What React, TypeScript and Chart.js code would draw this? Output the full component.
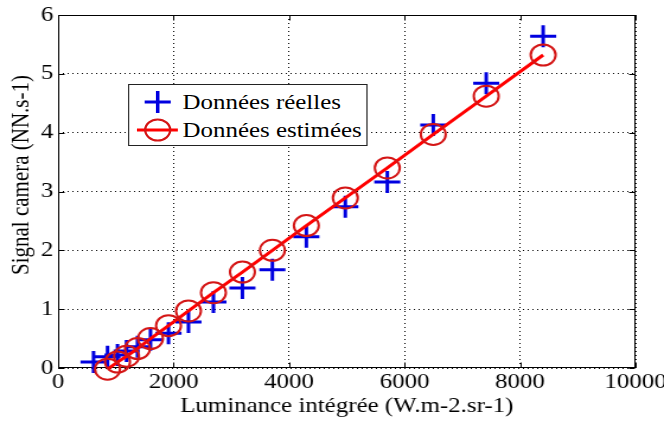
import React, { useEffect, useRef } from 'react';
import { Chart, registerables } from 'chart.js';

Chart.register(...registerables);

// ---- data ----
const realX = [614, 856, 1029, 1185, 1375, 1600, 1912, 2258, 2690, 3192, 3711, 4299, 4974, 5701, 6497, 7414, 8400];
const realY = [0.10, 0.19, 0.22, 0.29, 0.36, 0.48, 0.59, 0.78, 1.12, 1.36, 1.67, 2.23, 2.74, 3.16, 4.13, 4.84, 5.64];
const estX = [856, 1029, 1185, 1375, 1600, 1912, 2258, 2690, 3192, 3711, 4299, 4974, 5701, 6497, 7414, 8400];
const estY = [-0.02, 0.10, 0.20, 0.33, 0.50, 0.72, 0.97, 1.28, 1.63, 2.00, 2.42, 2.89, 3.40, 3.97, 4.62, 5.32];
const xTicks = [0, 2000, 4000, 6000, 8000, 10000];
const yTicks = [0, 1, 2, 3, 4, 5, 6];
const seriesNames = ['Données réelles', 'Données estimées'];
const xTitle = 'Luminance intégrée (W.m-2.sr-1)';
const yTitle = 'Signal camera (NN.s-1)';

const FONT = "'Liberation Serif', 'Times New Roman', Times, serif";
const BLUE = '#0000e0';
const RED = '#ff0000';
const CIRCLE_RED = '#d41515';

const boxPlugin = {
  id: 'matlabBox',
  beforeDatasetsDraw(chart: any) {
    const { ctx, chartArea } = chart;
    const xs = chart.scales.x;
    const ys = chart.scales.y;
    const l = Math.round(chartArea.left) + 0.5;
    const r = Math.round(chartArea.right) - 0.5;
    const t = Math.round(chartArea.top) + 0.5;
    const b = Math.round(chartArea.bottom) - 0.5;
    ctx.save();
    ctx.strokeStyle = '#000';
    ctx.lineWidth = 1;
    ctx.setLineDash([]);
    ctx.strokeRect(l, t, r - l, b - t);
    ctx.beginPath();
    xTicks.forEach((v) => {
      const p = Math.round(xs.getPixelForValue(v)) + 0.5;
      ctx.moveTo(p, b); ctx.lineTo(p, b - 5);
      ctx.moveTo(p, t); ctx.lineTo(p, t + 5);
    });
    yTicks.forEach((v) => {
      const p = Math.round(ys.getPixelForValue(v)) + 0.5;
      ctx.moveTo(l, p); ctx.lineTo(l + 5, p);
      ctx.moveTo(r, p); ctx.lineTo(r - 5, p);
    });
    ctx.stroke();
    ctx.restore();
  },
  afterDraw(chart: any) {
    const { ctx } = chart;
    ctx.save();
    ctx.translate(18, 175);
    ctx.rotate(-Math.PI / 2);
    ctx.font = `21px ${FONT}`;
    ctx.fillStyle = '#000';
    ctx.textAlign = 'center';
    ctx.textBaseline = 'middle';
    ctx.fillText(yTitle, 0, 0);
    ctx.restore();
  },
};

export default function App() {
  const ref = useRef<HTMLCanvasElement | null>(null);

  useEffect(() => {
    if (!ref.current) return;
    const chart = new Chart(ref.current, {
      type: 'scatter',
      data: {
        datasets: [
          {
            type: 'line',
            label: seriesNames[1],
            data: estX.map((x, i) => ({ x, y: estY[i] })),
            borderColor: RED,
            borderWidth: 3,
            tension: 0,
            pointStyle: 'circle',
            pointRadius: 10.5,
            pointHoverRadius: 10.5,
            pointBorderWidth: 2,
            pointBorderColor: CIRCLE_RED,
            pointBackgroundColor: 'rgba(0,0,0,0)',
            clip: false,
            order: 0,
          } as any,
          {
            type: 'scatter',
            label: seriesNames[0],
            data: realX.map((x, i) => ({ x, y: realY[i] })),
            showLine: false,
            pointStyle: 'cross',
            pointRadius: 11,
            pointHoverRadius: 11,
            pointBorderWidth: 3,
            pointBorderColor: BLUE,
            borderColor: BLUE,
            clip: false,
            order: 1,
          } as any,
        ],
      },
      options: {
        animation: false,
        responsive: false,
        maintainAspectRatio: false,
        devicePixelRatio: 1,
        events: [],
        layout: { padding: { top: 15, right: 24, left: 0, bottom: 0 } },
        plugins: { legend: { display: false }, tooltip: { enabled: false } },
        scales: {
          x: {
            type: 'linear',
            min: 0,
            max: 10000,
            afterBuildTicks: (s: any) => { s.ticks = xTicks.map((v) => ({ value: v })); },
            afterFit: (s: any) => { s.height = 53; s.paddingLeft = 0; s.paddingRight = 0; },
            ticks: {
              font: { family: FONT, size: 21 },
              color: '#000',
              padding: 2,
              maxRotation: 0,
              autoSkip: false,
              callback: (v: any) => String(v),
            },
            grid: { color: '#000', lineWidth: 1, drawTicks: false },
            border: { display: false, dash: [1, 3] },
            title: {
              display: true,
              text: xTitle,
              color: '#000',
              font: { family: FONT, size: 21 },
              padding: { top: 0, bottom: 2 },
            },
          },
          y: {
            type: 'linear',
            min: 0,
            max: 6,
            afterBuildTicks: (s: any) => { s.ticks = yTicks.map((v) => ({ value: v })); },
            afterFit: (s: any) => { s.width = 49; s.paddingTop = 0; s.paddingBottom = 0; },
            ticks: {
              font: { family: FONT, size: 21 },
              color: '#000',
              padding: 4,
              callback: (v: any) => String(v),
            },
            grid: { color: '#000', lineWidth: 1, drawTicks: false },
            border: { display: false, dash: [1, 3] },
            title: { display: false },
          },
        },
      },
      plugins: [boxPlugin],
    } as any);
    return () => chart.destroy();
  }, []);

  const textStyle: React.CSSProperties = {
    position: 'absolute',
    left: 45,
    fontFamily: FONT,
    fontSize: 21,
    lineHeight: '28px',
    color: '#000',
    whiteSpace: 'nowrap',
  };

  return (
    <div
      style={{
        position: 'absolute',
        left: 0,
        top: 0,
        width: 560,
        height: 421,
        background: '#fff',
        transform: 'scaleX(1.1857)',
        transformOrigin: '0 0',
      }}
    >
      <canvas ref={ref} width={560} height={421} style={{ display: 'block', width: 560, height: 421 }} />
      <div
        style={{
          position: 'absolute',
          left: 108,
          top: 84,
          width: 202,
          height: 62,
          boxSizing: 'border-box',
          border: '1px solid #222',
          background: '#fff',
        }}
      >
        <svg width={200} height={60} style={{ position: 'absolute', left: 0, top: 0 }}>
          <line x1={13} y1={17} x2={35} y2={17} stroke={BLUE} strokeWidth={3} />
          <line x1={24} y1={6} x2={24} y2={28} stroke={BLUE} strokeWidth={3} />
          <line x1={6.5} y1={45} x2={41} y2={45} stroke={RED} strokeWidth={3} />
          <circle cx={24} cy={45} r={10.5} stroke={CIRCLE_RED} strokeWidth={2} fill="none" />
        </svg>
        <span style={{ ...textStyle, top: 3 }}>{seriesNames[0]}</span>
        <span style={{ ...textStyle, top: 31 }}>{seriesNames[1]}</span>
      </div>
    </div>
  );
}
